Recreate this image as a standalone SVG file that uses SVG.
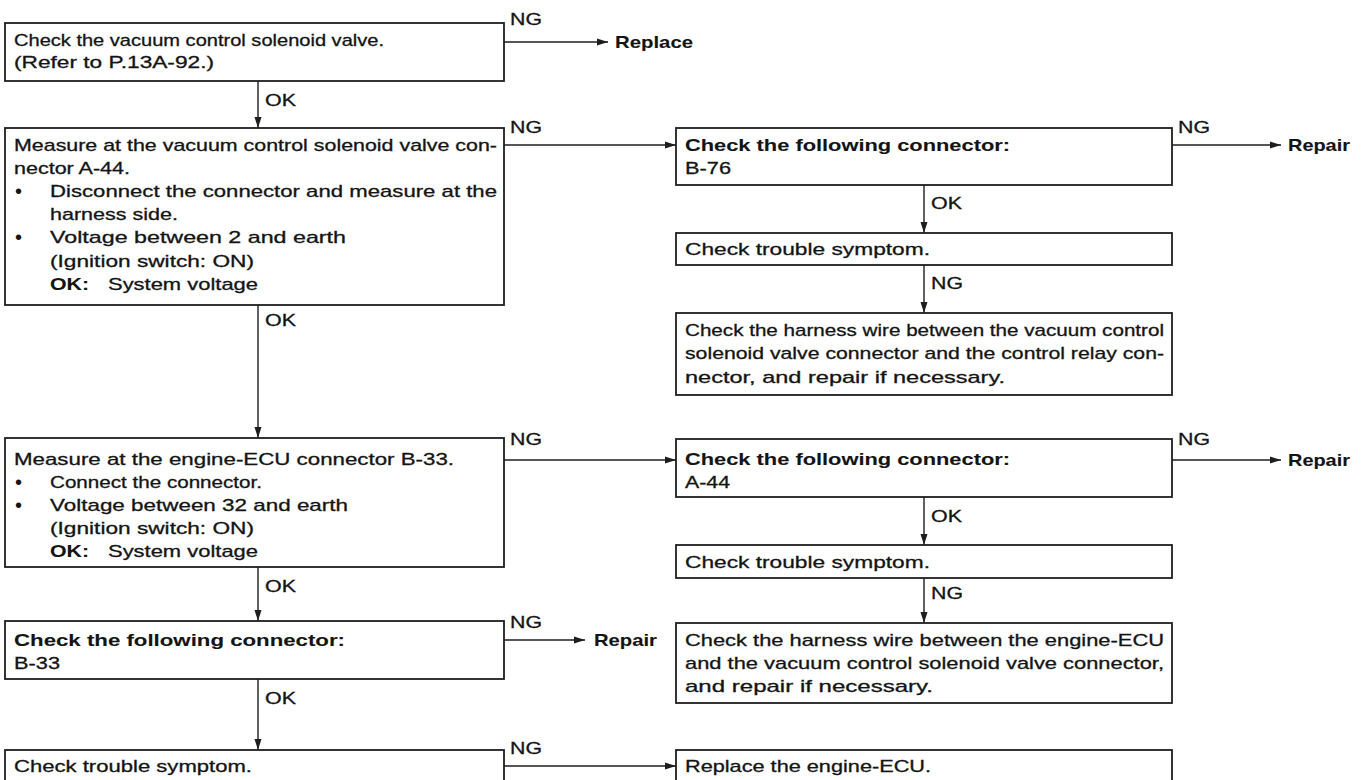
<svg xmlns="http://www.w3.org/2000/svg" width="1369" height="780" viewBox="0 0 1369 780">
  <style>
    .box { fill: #ffffff; stroke: #1e1e1e; stroke-width: 1.8; }
    .t { font-family: "Liberation Sans", Arial, sans-serif; font-size: 17px; fill: #141414; stroke: #141414; stroke-width: 0.3; }
    .b { font-weight: bold; stroke-width: 0.1; }
    .dot { font-family: "Liberation Sans", Arial, sans-serif; font-size: 20px; fill: #141414; }
    .wire { fill: none; stroke: #1e1e1e; stroke-width: 1.4; }
  </style>
  <defs>
    <marker id="arrow" markerUnits="userSpaceOnUse" markerWidth="11" markerHeight="8" refX="11" refY="4" orient="auto">
      <path d="M0,0.5 L11,4 L0,7.5 z" fill="#1e1e1e"/>
    </marker>
  </defs>
  <rect width="1369" height="780" fill="#ffffff"/>

  <!-- connectors -->
  <g id="connectors">
    <!-- left column, OK path -->
    <line class="wire" x1="258" y1="81" x2="258" y2="128" marker-end="url(#arrow)"/>
    <line class="wire" x1="258" y1="305" x2="258" y2="438" marker-end="url(#arrow)"/>
    <line class="wire" x1="258" y1="567" x2="258" y2="621" marker-end="url(#arrow)"/>
    <line class="wire" x1="258" y1="679" x2="258" y2="750" marker-end="url(#arrow)"/>
    <text class="t" x="265" y="106" textLength="31" lengthAdjust="spacingAndGlyphs">OK</text>
    <text class="t" x="265" y="326" textLength="31" lengthAdjust="spacingAndGlyphs">OK</text>
    <text class="t" x="265" y="592" textLength="31" lengthAdjust="spacingAndGlyphs">OK</text>
    <text class="t" x="265" y="704" textLength="31" lengthAdjust="spacingAndGlyphs">OK</text>

    <!-- left column, NG branches -->
    <line class="wire" x1="504" y1="42" x2="608" y2="42" marker-end="url(#arrow)"/>
    <text class="t" x="510" y="25" textLength="32" lengthAdjust="spacingAndGlyphs">NG</text>
    <text class="t b" x="615" y="48" textLength="78" lengthAdjust="spacingAndGlyphs">Replace</text>

    <line class="wire" x1="504" y1="145" x2="676" y2="145" marker-end="url(#arrow)"/>
    <text class="t" x="510" y="133" textLength="32" lengthAdjust="spacingAndGlyphs">NG</text>

    <line class="wire" x1="504" y1="460" x2="676" y2="460" marker-end="url(#arrow)"/>
    <text class="t" x="510" y="445" textLength="32" lengthAdjust="spacingAndGlyphs">NG</text>

    <line class="wire" x1="504" y1="640" x2="585" y2="640" marker-end="url(#arrow)"/>
    <text class="t" x="510" y="628" textLength="32" lengthAdjust="spacingAndGlyphs">NG</text>
    <text class="t b" x="594" y="646" textLength="63" lengthAdjust="spacingAndGlyphs">Repair</text>

    <line class="wire" x1="504" y1="766" x2="676" y2="766" marker-end="url(#arrow)"/>
    <text class="t" x="510" y="754" textLength="32" lengthAdjust="spacingAndGlyphs">NG</text>

    <!-- right column -->
    <line class="wire" x1="1172" y1="145" x2="1281" y2="145" marker-end="url(#arrow)"/>
    <text class="t" x="1178" y="133" textLength="32" lengthAdjust="spacingAndGlyphs">NG</text>
    <text class="t b" x="1288" y="151" textLength="62" lengthAdjust="spacingAndGlyphs">Repair</text>

    <line class="wire" x1="924" y1="185" x2="924" y2="233" marker-end="url(#arrow)"/>
    <text class="t" x="931" y="209" textLength="31" lengthAdjust="spacingAndGlyphs">OK</text>
    <line class="wire" x1="924" y1="265" x2="924" y2="313" marker-end="url(#arrow)"/>
    <text class="t" x="931" y="289" textLength="32" lengthAdjust="spacingAndGlyphs">NG</text>

    <line class="wire" x1="1172" y1="460" x2="1281" y2="460" marker-end="url(#arrow)"/>
    <text class="t" x="1178" y="445" textLength="32" lengthAdjust="spacingAndGlyphs">NG</text>
    <text class="t b" x="1288" y="466" textLength="62" lengthAdjust="spacingAndGlyphs">Repair</text>

    <line class="wire" x1="924" y1="497" x2="924" y2="545" marker-end="url(#arrow)"/>
    <text class="t" x="931" y="522" textLength="31" lengthAdjust="spacingAndGlyphs">OK</text>
    <line class="wire" x1="924" y1="578" x2="924" y2="623" marker-end="url(#arrow)"/>
    <text class="t" x="931" y="599" textLength="32" lengthAdjust="spacingAndGlyphs">NG</text>
  </g>

  <!-- left column steps -->
  <g id="check-valve">
    <rect class="box" x="5" y="23" width="499" height="58"/>
    <text class="t" x="14" y="46" textLength="370" lengthAdjust="spacingAndGlyphs">Check the vacuum control solenoid valve.</text>
    <text class="t" x="14" y="68" textLength="200" lengthAdjust="spacingAndGlyphs">(Refer to P.13A-92.)</text>
  </g>

  <g id="measure-a44">
    <rect class="box" x="5" y="128" width="499" height="177"/>
    <text class="t" x="14" y="151" textLength="483" lengthAdjust="spacingAndGlyphs">Measure at the vacuum control solenoid valve con-</text>
    <text class="t" x="14" y="174" textLength="116" lengthAdjust="spacingAndGlyphs">nector A-44.</text>
    <text class="dot" x="15" y="198">•</text>
    <text class="t" x="50" y="197" textLength="447" lengthAdjust="spacingAndGlyphs">Disconnect the connector and measure at the</text>
    <text class="t" x="50" y="220" textLength="128" lengthAdjust="spacingAndGlyphs">harness side.</text>
    <text class="dot" x="15" y="244">•</text>
    <text class="t" x="50" y="243" textLength="296" lengthAdjust="spacingAndGlyphs">Voltage between 2 and earth</text>
    <text class="t" x="50" y="267" textLength="204" lengthAdjust="spacingAndGlyphs">(Ignition switch: ON)</text>
    <text class="t b" x="50" y="290" textLength="39" lengthAdjust="spacingAndGlyphs">OK:</text>
    <text class="t" x="108" y="290" textLength="150" lengthAdjust="spacingAndGlyphs">System voltage</text>
  </g>

  <g id="measure-b33">
    <rect class="box" x="5" y="438" width="499" height="129"/>
    <text class="t" x="14" y="465" textLength="440" lengthAdjust="spacingAndGlyphs">Measure at the engine-ECU connector B-33.</text>
    <text class="dot" x="15" y="489">•</text>
    <text class="t" x="50" y="488" textLength="212" lengthAdjust="spacingAndGlyphs">Connect the connector.</text>
    <text class="dot" x="15" y="512">•</text>
    <text class="t" x="50" y="511" textLength="298" lengthAdjust="spacingAndGlyphs">Voltage between 32 and earth</text>
    <text class="t" x="50" y="534" textLength="204" lengthAdjust="spacingAndGlyphs">(Ignition switch: ON)</text>
    <text class="t b" x="50" y="557" textLength="39" lengthAdjust="spacingAndGlyphs">OK:</text>
    <text class="t" x="108" y="557" textLength="150" lengthAdjust="spacingAndGlyphs">System voltage</text>
  </g>

  <g id="connector-b33">
    <rect class="box" x="5" y="621" width="499" height="58"/>
    <text class="t b" x="14" y="646" textLength="331" lengthAdjust="spacingAndGlyphs">Check the following connector:</text>
    <text class="t" x="14" y="669" textLength="46" lengthAdjust="spacingAndGlyphs">B-33</text>
  </g>

  <g id="symptom-main">
    <rect class="box" x="5" y="750" width="499" height="60"/>
    <text class="t" x="14" y="772" textLength="238" lengthAdjust="spacingAndGlyphs">Check trouble symptom.</text>
  </g>

  <!-- right column steps -->
  <g id="connector-b76">
    <rect class="box" x="676" y="128" width="496" height="57"/>
    <text class="t b" x="685" y="151" textLength="325" lengthAdjust="spacingAndGlyphs">Check the following connector:</text>
    <text class="t" x="685" y="174" textLength="46" lengthAdjust="spacingAndGlyphs">B-76</text>
  </g>

  <g id="symptom-b76">
    <rect class="box" x="676" y="233" width="496" height="32"/>
    <text class="t" x="685" y="255" textLength="245" lengthAdjust="spacingAndGlyphs">Check trouble symptom.</text>
  </g>

  <g id="harness-relay">
    <rect class="box" x="676" y="313" width="496" height="82"/>
    <text class="t" x="685" y="336" textLength="479" lengthAdjust="spacingAndGlyphs">Check the harness wire between the vacuum control</text>
    <text class="t" x="685" y="359" textLength="479" lengthAdjust="spacingAndGlyphs">solenoid valve connector and the control relay con-</text>
    <text class="t" x="685" y="383" textLength="320" lengthAdjust="spacingAndGlyphs">nector, and repair if necessary.</text>
  </g>

  <g id="connector-a44">
    <rect class="box" x="676" y="439" width="496" height="58"/>
    <text class="t b" x="685" y="465" textLength="325" lengthAdjust="spacingAndGlyphs">Check the following connector:</text>
    <text class="t" x="685" y="488" textLength="45" lengthAdjust="spacingAndGlyphs">A-44</text>
  </g>

  <g id="symptom-a44">
    <rect class="box" x="676" y="545" width="496" height="33"/>
    <text class="t" x="685" y="568" textLength="245" lengthAdjust="spacingAndGlyphs">Check trouble symptom.</text>
  </g>

  <g id="harness-ecu">
    <rect class="box" x="676" y="623" width="496" height="80"/>
    <text class="t" x="685" y="646" textLength="479" lengthAdjust="spacingAndGlyphs">Check the harness wire between the engine-ECU</text>
    <text class="t" x="685" y="669" textLength="479" lengthAdjust="spacingAndGlyphs">and the vacuum control solenoid valve connector,</text>
    <text class="t" x="685" y="692" textLength="248" lengthAdjust="spacingAndGlyphs">and repair if necessary.</text>
  </g>

  <g id="replace-ecu">
    <rect class="box" x="676" y="750" width="496" height="60"/>
    <text class="t" x="685" y="772" textLength="246" lengthAdjust="spacingAndGlyphs">Replace the engine-ECU.</text>
  </g>
</svg>
